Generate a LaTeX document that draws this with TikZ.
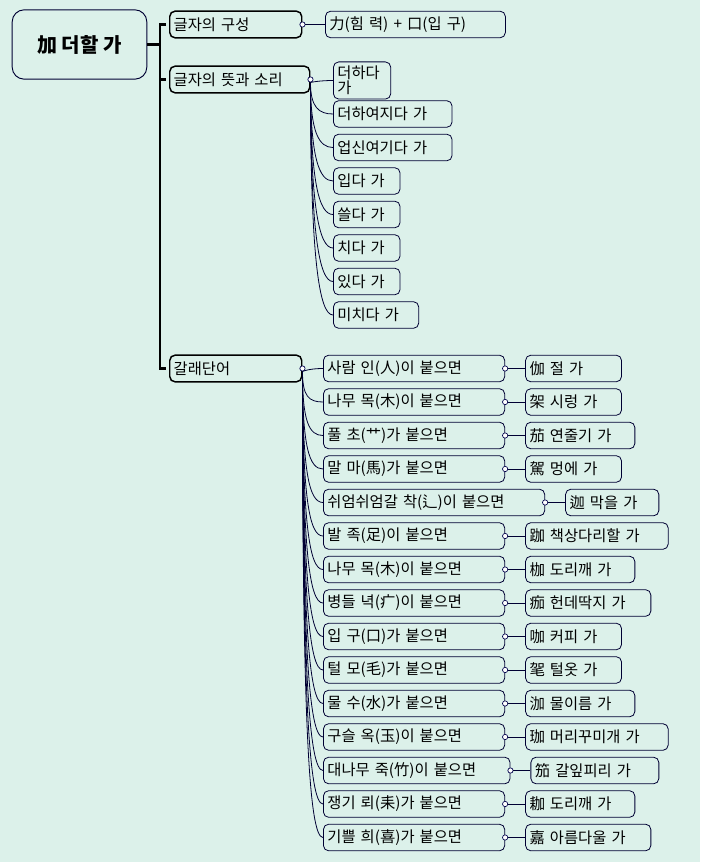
\documentclass[tikz,border=0pt]{standalone}
\usepackage{fontspec}
\setmainfont{Noto Sans CJK KR}
\usetikzlibrary{calc}
\begin{document}
\begin{tikzpicture}[x=0.75pt,y=-0.75pt,
  bx/.style={draw=black!80!blue,fill=bg,rounded corners=4pt,line width=0.6pt,anchor=west,minimum height=20pt,inner sep=3pt,font=\fontsize{11.5}{11.5}\selectfont,text=black,align=left},
  lv/.style={bx,line width=1.1pt,draw=black},
  dot/.style={circle,draw=black!70!blue,fill=white,inner sep=1.4pt,line width=0.5pt},
  cn/.style={draw=black!80!blue,line width=0.6pt}]
\definecolor{bg}{HTML}{DCF1EA}
\fill[bg] (0,0) rectangle (700,862);
\useasboundingbox (0,0) rectangle (700,862);
\node[draw=black!80!blue,fill=bg,rounded corners=9pt,line width=0.7pt,minimum width=101pt,minimum height=52pt,font=\fontsize{15}{15}\selectfont\bfseries] (root) at (79.5,44.5) {加 더할 가};
\node[lv,minimum width=99pt,text width=93pt] (a) at (169,24.5) {글자의 구성};
\node[lv,minimum width=105pt,text width=99pt] (b) at (169,79.5) {글자의 뜻과 소리};
\node[lv,minimum width=99pt,text width=93pt] (c) at (169,368.5) {갈래단어};
\draw[line width=1.6pt] (root.east) -- (160,44.5) coordinate (t0);
\draw[line width=1.6pt] (166,24.5) -- (160,24.5) -- (160,368.5) -- (166,368.5);
\draw[line width=1.6pt] (160,79.5) -- (166,79.5);
\node[dot] (ad) at (a.east) {};
\node[bx,minimum width=135pt,text width=129pt] (a1) at (325,24.5) {力(힘 력) + 口(입 구)};
\draw[cn] (ad) -- (a1);
\node[dot] (bd) at (b.east) {};
\foreach \t/\w [count=\i] in {더하다 가/43,더하여지다 가/89,업신여기다 가/89,입다 가/50,쓸다 가/50,치다 가/50,있다 가/50,미치다 가/64}{
  \node[bx,minimum width=\w pt,text width={(\w-6)*1pt}] (b\i) at (333,{80.5+33.5*(\i-1)}) {\t};
  \draw[cn] (bd.south) .. controls ($(bd.south)+(0,{25*(\i-1)})$) and ($(b\i.west)+(-14,0)$) .. (b\i.west);
}
\node[dot] (cd) at (c.east) {};
\foreach \t/\w/\l/\lw [count=\i] in {
 사람 인(人)이 붙으면/136/伽 절 가/72,
 나무 목(木)이 붙으면/136/架 시렁 가/72,
 풀 초(艹)가 붙으면/136/茄 연줄기 가/82,
 말 마(馬)가 붙으면/136/駕 멍에 가/72,
 쉬엄쉬엄갈 착(辶)이 붙으면/166/迦 막을 가/70,
 발 족(足)이 붙으면/136/跏 책상다리할 가/107,
 나무 목(木)이 붙으면/136/枷 도리깨 가/82,
 병들 녁(疒)이 붙으면/136/痂 헌데딱지 가/94,
 입 구(口)가 붙으면/136/咖 커피 가/72,
 털 모(毛)가 붙으면/136/毠 털옷 가/72,
 물 수(水)가 붙으면/136/泇 물이름 가/82,
 구슬 옥(玉)이 붙으면/136/珈 머리꾸미개 가/107,
 대나무 죽(竹)이 붙으면/140/笳 갈잎피리 가/96,
 쟁기 뢰(耒)가 붙으면/136/耞 도리깨 가/82,
 기쁠 희(喜)가 붙으면/136/嘉 아름다울 가/94}{
  \node[bx,minimum width=\w pt,text width={(\w-6)*1pt}] (c\i) at (323,{368.5+33.5*(\i-1)}) {\t};
  \draw[cn] (cd.south) .. controls ($(cd.south)+(0,{25*(\i-1)})$) and ($(c\i.west)+(-14,0)$) .. (c\i.west);
  \node[dot] (cd\i) at (c\i.east) {};
  \node[bx,minimum width=\lw pt,text width={(\lw-6)*1pt},xshift=15pt] (l\i) at (cd\i) {\l};
  \draw[cn] (cd\i) -- (l\i);
}
\end{tikzpicture}
\end{document}
